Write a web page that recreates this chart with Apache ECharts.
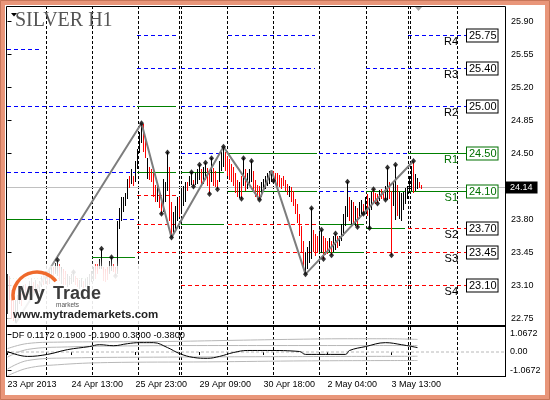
<!DOCTYPE html>
<html><head><meta charset="utf-8">
<script src="https://cdn.jsdelivr.net/npm/echarts@6/dist/echarts.min.js"></script>
<style>html,body{margin:0;padding:0;background:#fff;}#c{width:550px;height:400px;}</style>
</head><body><div id="c"></div>
<script>
// ---------- DATA ----------
const highs = [
23.22,23.20,23.05,22.95,22.95,23.00,23.05,23.02,23.10,23.12,
23.08,23.15,23.18,23.14,23.16,23.12,23.15,23.20,23.22,23.25,
23.22,23.28,23.32,23.30,23.34,23.37,23.33,23.30,23.28,23.25,
23.22,23.20,23.22,23.24,23.20,23.18,23.16,23.18,23.15,23.17,
23.19,23.22,23.25,23.30,23.33,23.33,23.38,23.49,23.30,23.28,
23.30,23.36,23.40,23.33,23.30,23.78,23.92,24.04,24.04,24.08,
24.23,24.26,24.33,24.26,24.42,24.55,24.73,24.82,24.81,24.66,
24.45,24.36,24.34,24.29,24.17,24.15,24.10,24.02,24.23,24.20,
24.51,24.36,23.99,23.88,23.94,24.04,24.04,24.12,24.15,24.20,
24.20,24.26,24.30,24.22,24.29,24.33,24.38,24.33,24.36,24.40,
24.35,24.31,24.45,24.35,24.31,24.22,24.42,24.52,24.57,24.52,
24.47,24.44,24.39,24.36,24.29,24.22,24.20,24.26,24.45,24.33,
24.29,24.33,24.42,24.31,24.22,24.17,24.15,24.20,24.23,24.26,
24.29,24.31,24.32,24.31,24.29,24.29,24.27,24.24,24.26,24.22,
24.18,24.15,24.14,24.10,24.02,23.96,23.86,23.73,23.57,23.46,
23.51,23.57,23.92,23.69,23.65,23.62,23.65,23.69,23.62,23.60,
23.57,23.60,23.57,23.62,23.65,23.63,23.63,23.75,23.86,23.94,
24.20,24.04,24.01,23.99,23.94,23.92,23.99,24.01,23.96,24.04,
24.07,24.03,24.09,24.12,24.08,24.07,24.11,24.12,24.10,24.15,
24.35,24.20,24.10,24.20,24.38,24.17,24.09,24.08,24.09,24.13,
24.16,24.26,24.37,24.42,24.28,24.24,24.20,24.17];
const lows = [
22.80,22.95,22.75,22.72,22.70,22.78,22.90,22.88,22.95,22.98,
22.96,23.00,23.05,23.02,23.04,23.00,23.03,23.08,23.10,23.12,
23.10,23.12,23.18,23.20,23.22,23.20,23.15,23.12,23.10,23.10,
23.08,23.10,23.12,23.14,23.10,23.08,23.06,23.08,23.07,23.08,
23.09,23.10,23.14,23.15,23.17,23.22,23.27,23.28,23.15,23.14,
23.16,23.22,23.25,23.24,23.20,23.22,23.70,23.78,23.88,23.94,
24.02,24.13,24.18,24.15,24.20,24.33,24.50,24.61,24.52,24.45,
24.23,24.22,24.20,24.04,23.99,23.99,23.92,23.86,23.88,23.99,
24.10,23.78,23.61,23.64,23.70,23.78,23.83,23.88,23.94,23.99,
24.10,24.16,24.17,24.15,24.17,24.18,24.22,24.15,24.18,24.22,
24.15,24.07,24.20,24.15,24.14,24.12,24.20,24.31,24.36,24.31,
24.26,24.22,24.20,24.15,24.08,24.04,24.03,24.02,24.15,24.10,
24.12,24.15,24.20,24.10,24.04,24.02,24.01,24.04,24.10,24.12,
24.15,24.18,24.20,24.21,24.20,24.16,24.14,24.12,24.15,24.10,
24.06,24.04,23.99,23.94,23.86,23.76,23.62,23.46,23.30,23.22,
23.28,23.34,23.38,23.46,23.41,23.44,23.46,23.44,23.38,23.42,
23.43,23.45,23.42,23.46,23.48,23.50,23.52,23.57,23.62,23.73,
23.83,23.78,23.73,23.76,23.73,23.72,23.80,23.86,23.86,23.88,
23.84,23.71,23.90,23.96,23.96,23.97,24.00,24.02,24.02,24.01,
24.01,24.02,23.42,23.94,23.79,23.84,23.80,23.78,23.90,23.96,
24.02,24.08,24.10,24.08,24.10,24.12,24.13,24.12];
const upBar = [
1,0,0,0,1,1,1,0,1,0, 0,1,1,0,1,0,1,1,0,1, 0,1,1,0,1,1,0,1,0,0, 1,1,1,1,0,0,1,1,0,1,
1,1,1,1,0,0,1,1,0,0, 0,1,1,0,0,1,1,1,1,1, 1,0,1,0,1,1,1,1,0,0, 1,0,0,0,0,1,0,0,1,1,
1,0,0,1,1,1,0,1,1,1, 0,1,1,0,1,1,1,0,1,1, 0,0,1,0,0,0,1,1,1,0, 0,0,0,0,0,0,1,0,1,0,
1,1,1,0,0,0,0,1,1,1, 1,1,1,0,0,0,0,0,0,0, 0,1,0,0,0,0,0,0,0,1, 1,1,1,0,0,0,1,1,0,0,
0,1,0,1,1,0,1,1,1,1, 1,0,1,0,1,0,1,1,0,1, 0,1,1,0,0,0,1,0,0,1, 1,0,0,1,1,0,1,1,1,1,
1,1,1,0,1,1,0,0];
const lastPrice = 24.14;

const zigIdx   = [4, 67, 82, 108, 126, 132, 149, 203];
const zigPrice = [22.70, 24.82, 23.61, 24.57, 24.01, 24.32, 23.22, 24.42];

const fractalHighIdx = [25,33,47,52,67,80,92,96,99,102,108,118,122,152,157,164,170,183,190,194,203];
const fractalLowIdx  = [54,77,82,93,101,105,117,126,133,149,158,162,175,178,181,185,189,192];

// day separators (in bar-index units)
const separators = [19.5, 42.5, 65.5, 86, 87, 110, 133, 156, 179.5, 200.5, 201.5, 225];

// daily pivot segments: [startBar, endBar, price, kind]  B=resistance, G=pivot, R=support, D=dotted
const pivotSegments = [
  [-0.25,16.25,25.60,'B'],[-0.25,63.75,25.00,'B'],[-0.25,63.75,24.30,'B'],[-0.25,17.75,23.80,'G'],
  [19.25,63.75,23.80,'B'],[42.25,63.75,23.40,'G'],[-0.25,40.25,23.17,'D'],
  [64.75,84.25,25.75,'B'],[64.75,84.25,25.40,'B'],[64.75,84.25,25.00,'G'],[64.75,84.25,24.30,'G'],
  [64.75,84.25,24.05,'R'],[64.75,84.25,23.75,'R'],[64.75,84.25,23.45,'R'],
  [86.75,153.75,25.40,'B'],[86.75,199.75,25.00,'B'],[86.75,108.25,24.50,'B'],[86.75,108.25,24.30,'G'],
  [86.75,108.25,23.75,'G'],[86.75,154.75,23.45,'R'],[86.75,199.75,23.10,'R'],
  [110.25,153.75,25.75,'B'],[110.25,154.75,24.50,'G'],[110.25,154.75,24.10,'G'],[110.25,154.75,23.75,'R'],
  [155.75,199.75,24.50,'B'],[155.75,178.25,24.10,'B'],[155.75,178.25,23.75,'G'],[155.75,178.25,23.45,'G'],
  [179.25,199.75,25.40,'B'],[179.25,198.75,24.10,'G'],[179.25,198.75,23.70,'G'],[179.25,199.75,23.45,'R']
];

// current day pivot levels
const levelNames  = ['R4','R3','R2','R1','S1','S2','S3','S4'];
const levelValues = [25.75,25.40,25.00,24.50,24.10,23.70,23.45,23.10];
const levelKinds  = ['B','B','B','G','G','R','R','R'];
const levelSpan   = [200.25, 229.75];

const priceTicks = [22.75,23.10,23.45,23.80,24.50,24.85,25.20,25.55,25.90];
const timeLabelIdx = [0,32,64,96,128,160,192];
const timeLabels = ['23 Apr 2013','24 Apr 13:00','25 Apr 23:00','29 Apr 09:00','30 Apr 18:00','2 May 04:00','3 May 13:00'];

// indicator (DF)
const dfIdx = [0,10,20,30,41,46,53,60,66,73,80,86,93,100,106,113,120,130,146,149,169,171,179,189,197,205];
const dfVal = [0.03,-0.26,-0.14,0.14,0.32,0.43,0.37,0.49,0.55,0.55,0.26,-0.09,-0.32,-0.37,-0.26,-0.03,0.09,0.09,0.03,-0.14,-0.14,0.09,0.32,0.55,0.43,0.26];
const bandUpOuterIdx = [0,10,25,50,80,110,140,170,190,205];
const bandUpOuterVal = [0.20,0.50,0.58,0.60,0.62,0.68,0.74,0.78,0.78,0.74];
const bandUpInnerIdx = [0,10,30,60,100,140,180,205];
const bandUpInnerVal = [-0.30,0.15,0.30,0.36,0.38,0.38,0.38,0.38];
const bandLoInnerIdx = [0,10,30,80,140,205];
const bandLoInnerVal = [-1.00,-0.50,-0.35,-0.30,-0.27,-0.25];
const bandLoOuterIdx = [0,10,25,50,100,150,205];
const bandLoOuterVal = [-1.40,-0.95,-0.75,-0.62,-0.58,-0.52,-0.50];
const dfTicks = [-1.0672, 0, 1.0672];
const dfLegend = 'DF 0.1172 0.1900 -0.1900 0.3800 -0.3800';

// ---------- STYLE ----------
const FONT = '"Liberation Sans", Arial, sans-serif';
const kindOrder = ['D','G','B','R'];
const kindColor = {B:'#0000ff', G:'#008000', R:'#ff0000', D:'#4fa84f'};
function kindDash(k) {
  if (k === 'G') return null;
  if (k === 'D') return [1, 2];
  return [4, 3];
}
const crisp = v => Math.floor(v + 1e-6) + 0.5;

const chart = echarts.init(document.getElementById('c'), null, {renderer:'canvas', width:550, height:400});

function sepRender(params, api) {
  const cs = params.coordSys;
  let d = '';
  separators.forEach(v => {
    const p = api.coord([v, api.value(1)]);
    const x = Math.floor(p[0]) + 0.5;
    d += 'M' + x + ' ' + cs.y + 'L' + x + ' ' + (cs.y + cs.height);
  });
  return {type:'path', silent:true, shape:{pathData:d},
    style:{fill:'none', stroke:'#000', lineWidth:1, lineDash:[3, 2]}};
}
function segRender(params, api) {
  const kind = kindOrder[params.dataIndex];
  let d = '';
  const add = (s, e, p) => {
    const a = api.coord([s, p]), b = api.coord([e, p]);
    const y = crisp(a[1]);
    d += 'M' + Math.round(a[0]) + ' ' + y + 'L' + Math.round(b[0]) + ' ' + y;
  };
  pivotSegments.forEach(seg => { if (seg[3] === kind) add(seg[0], seg[1], seg[2]); });
  levelValues.forEach((v, k) => { if (levelKinds[k] === kind) add(levelSpan[0], levelSpan[1], v); });
  return {type:'path', silent:true, shape:{pathData:d},
    style:{fill:'none', stroke:kindColor[kind], lineWidth:1, lineDash:kindDash(kind)}};
}
function levelLabelRender(params, api) {
  const k = params.dataIndex;
  const b = api.coord([levelSpan[1], levelValues[k]]);
  const y = crisp(b[1]);
  const tc = levelKinds[k] === 'G' ? '#007000' : '#000';
  return {type:'group', children:[
    {type:'text', x:Math.round(b[0]), y:y, style:{text:levelValues[k].toFixed(2), font:'11px ' + FONT,
      fill:tc, align:'left', verticalAlign:'middle', backgroundColor:'#fff', borderColor:tc, borderWidth:1,
      padding:[1,1,0,2]}},
    {type:'text', x:Math.round(b[0]) - 9, y:y + 1, style:{text:levelNames[k], font:'11px ' + FONT,
      fill:tc, align:'right', verticalAlign:'top'}}
  ]};
}
function priceLineRender(params, api) {
  const cs = params.coordSys;
  const p = api.coord([api.value(0), api.value(1)]);
  const y = crisp(p[1]);
  return {type:'group', children:[
    {type:'line', shape:{x1:cs.x, y1:y, x2:cs.x + cs.width, y2:y}, style:{stroke:'#c0c0c0', lineWidth:1}},
    {type:'text', x:cs.x + cs.width + 1, y:y, style:{text:api.value(1).toFixed(2), font:'9px ' + FONT,
      fill:'#fff', align:'left', verticalAlign:'middle', backgroundColor:'#000', padding:[2,5,1,4]}}
  ]};
}
function barRender(params, api) {
  const i = api.value(0);
  const p1 = api.coord([i, api.value(1)]);
  const p2 = api.coord([i, api.value(2)]);
  const x = Math.floor(p1[0]) + 0.5;
  const y1 = Math.round(p1[1]);
  let y2 = Math.round(p2[1]);
  if (y2 - y1 < 2) y2 = y1 + 2;
  return {type:'line', shape:{x1:x, y1:y1, x2:x, y2:y2},
    style:{stroke: api.value(3) ? '#000' : '#ff0000', lineWidth:1}};
}

const pair = (idx, val) => idx.map((i, k) => [i, val[k]]);
const grayBand = (idx, val) => ({type:'line', xAxisIndex:1, yAxisIndex:1, data:pair(idx, val), symbol:'none',
  smooth:0.4, lineStyle:{color:'#b8b8b8', width:1}, z:2, silent:true});

const option = {
  animation:false,
  backgroundColor:'#fff',
  textStyle:{fontFamily:FONT},
  grid:[
    {left:6, top:6, width:499, height:319, show:false},
    {left:6, top:327, width:499, height:49, show:false}
  ],
  xAxis:[
    {type:'value', gridIndex:0, min:-0.75, max:248.75, show:false},
    {type:'value', gridIndex:1, min:-0.75, max:248.75,
      axisLine:{show:false}, splitLine:{show:false},
      axisTick:{show:true, customValues:timeLabelIdx, length:3, lineStyle:{color:'#000'}},
      axisLabel:{customValues:timeLabelIdx, align:'left', margin:4, fontSize:9, color:'#000', fontFamily:FONT,
        formatter:v => { const k = timeLabelIdx.indexOf(v); return k >= 0 ? timeLabels[k] : ''; }}}
  ],
  yAxis:[
    {type:'value', gridIndex:0, position:'right', min:22.6813, max:26.0627,
      axisLine:{show:false}, splitLine:{show:false},
      axisTick:{show:true, customValues:priceTicks, length:4, lineStyle:{color:'#000'}},
      axisLabel:{customValues:priceTicks, margin:6, fontSize:9, color:'#000', fontFamily:FONT,
        formatter:v => v.toFixed(2)}},
    {type:'value', gridIndex:1, position:'right', min:-1.41, max:1.47,
      axisLine:{show:false}, splitLine:{show:false},
      axisTick:{show:true, customValues:dfTicks, length:4, lineStyle:{color:'#000'}},
      axisLabel:{customValues:dfTicks, margin:5, fontSize:9, color:'#000', fontFamily:FONT,
        formatter:v => v === 0 ? '0.00' : v.toFixed(4)}}
  ],
  series:[
    {type:'custom', xAxisIndex:0, yAxisIndex:0, data:[[0, 24]], renderItem:sepRender, z:1, silent:true},
    {type:'custom', xAxisIndex:1, yAxisIndex:1, data:[[0, 0]], renderItem:sepRender, z:1, silent:true},
    {type:'custom', xAxisIndex:0, yAxisIndex:0, data:kindOrder.map(() => [0, 24]), renderItem:segRender, z:1, silent:true},
    {type:'custom', xAxisIndex:0, yAxisIndex:0, data:levelValues.map(v => [levelSpan[1], v]), renderItem:levelLabelRender, z:2, silent:true},
    {type:'custom', xAxisIndex:0, yAxisIndex:0, data:[[0, lastPrice]], renderItem:priceLineRender, z:1, silent:true},
    {type:'custom', xAxisIndex:0, yAxisIndex:0, data:highs.map((h, i) => [i, h, lows[i], upBar[i]]),
      encode:{x:0, y:[1,2]}, renderItem:barRender, z:3, silent:true},
    {type:'line', xAxisIndex:0, yAxisIndex:0, data:pair(zigIdx, zigPrice), symbol:'none',
      lineStyle:{color:'#7d7d7d', width:2}, z:4, silent:true},
    {type:'scatter', xAxisIndex:0, yAxisIndex:0, data:fractalHighIdx.map(i => [i, highs[i]]),
      symbol:'diamond', symbolSize:[5,6], itemStyle:{color:'#000'}, z:5, silent:true},
    {type:'scatter', xAxisIndex:0, yAxisIndex:0, data:fractalLowIdx.map(i => [i, lows[i]]),
      symbol:'diamond', symbolSize:[5,6], itemStyle:{color:'#000'}, z:5, silent:true},
    {type:'line', xAxisIndex:1, yAxisIndex:1, data:[[-0.75,0],[248.75,0]], symbol:'none',
      lineStyle:{color:'#b8b8b8', width:1, type:[3,2]}, z:2, silent:true},
    grayBand(bandUpOuterIdx, bandUpOuterVal),
    grayBand(bandUpInnerIdx, bandUpInnerVal),
    grayBand(bandLoInnerIdx, bandLoInnerVal),
    grayBand(bandLoOuterIdx, bandLoOuterVal),
    {type:'line', xAxisIndex:1, yAxisIndex:1, data:pair(dfIdx, dfVal), symbol:'none', smooth:0.4,
      lineStyle:{color:'#000', width:1}, z:3, silent:true}
  ],
  graphic:[
    {type:'rect', z:50, silent:true, shape:{x:2.5, y:2.5, width:545, height:395},
      style:{fill:'none', stroke:'#e9967a', lineWidth:5}},
    {type:'rect', z:50, silent:true, shape:{x:0.5, y:0.5, width:549, height:399},
      style:{fill:'none', stroke:'#c8765a', lineWidth:1}},
    // panel borders
    {type:'polyline', z:50, silent:true, shape:{points:[[6.5,377],[6.5,6.5],[505.5,6.5],[505.5,377]]},
      style:{fill:'none', stroke:'#000', lineWidth:1}},
    {type:'line', z:50, silent:true, shape:{x1:6, y1:325.5, x2:506, y2:325.5}, style:{stroke:'#000', lineWidth:1}},
    {type:'line', z:50, silent:true, shape:{x1:6, y1:326.5, x2:506, y2:326.5}, style:{stroke:'#000', lineWidth:1}},
    {type:'line', z:50, silent:true, shape:{x1:6, y1:376.5, x2:506, y2:376.5}, style:{stroke:'#000', lineWidth:1}},
    // title
    {type:'polygon', z:50, silent:true, shape:{points:[[11,13],[17,13],[14,16.5]]}, style:{fill:'#000'}},
    {type:'text', z:50, silent:true, x:15, y:20.5, style:{text:'SILVER H1', font:'20px "Liberation Serif", serif',
      fill:'#555', align:'left', verticalAlign:'middle'}},
    {type:'polygon', z:50, silent:true, shape:{points:[[415,7],[422,7],[418.5,11]]}, style:{fill:'#a8a8a8'}},
    // indicator legend
    {type:'text', z:50, silent:true, x:12, y:335.5, style:{text:dfLegend, font:'9.3px ' + FONT,
      fill:'#000', align:'left', verticalAlign:'middle'}},
    // logo
    {type:'rect', z:40, silent:true, shape:{x:8, y:266, width:152, height:58},
      style:{fill:'rgba(255,255,255,0.72)', shadowBlur:10, shadowColor:'rgba(255,255,255,0.9)'}},
    {type:'arc', z:41, silent:true, shape:{cx:37, cy:296, r:24, startAngle:2.97, endAngle:5.62, clockwise:true},
      style:{fill:'none', stroke:'#ef6a2c', lineWidth:3.5}},
    {type:'text', z:41, silent:true, x:17, y:294, style:{text:'My', font:'bold 20px ' + FONT,
      fill:'#3c3c3c', align:'left', verticalAlign:'middle'}},
    {type:'text', z:41, silent:true, x:53, y:294.5, style:{text:'Trade', font:'bold 18px ' + FONT,
      fill:'#3c3c3c', align:'left', verticalAlign:'middle'}},
    {type:'text', z:41, silent:true, x:56, y:305, style:{text:'markets', font:'6.5px ' + FONT,
      fill:'#555', align:'left', verticalAlign:'middle'}},
    {type:'text', z:41, silent:true, x:13, y:315, style:{text:'www.mytrademarkets.com', font:'bold 11.5px ' + FONT,
      fill:'#222', align:'left', verticalAlign:'middle'}}
  ]
};
chart.setOption(option);
</script></body></html>
